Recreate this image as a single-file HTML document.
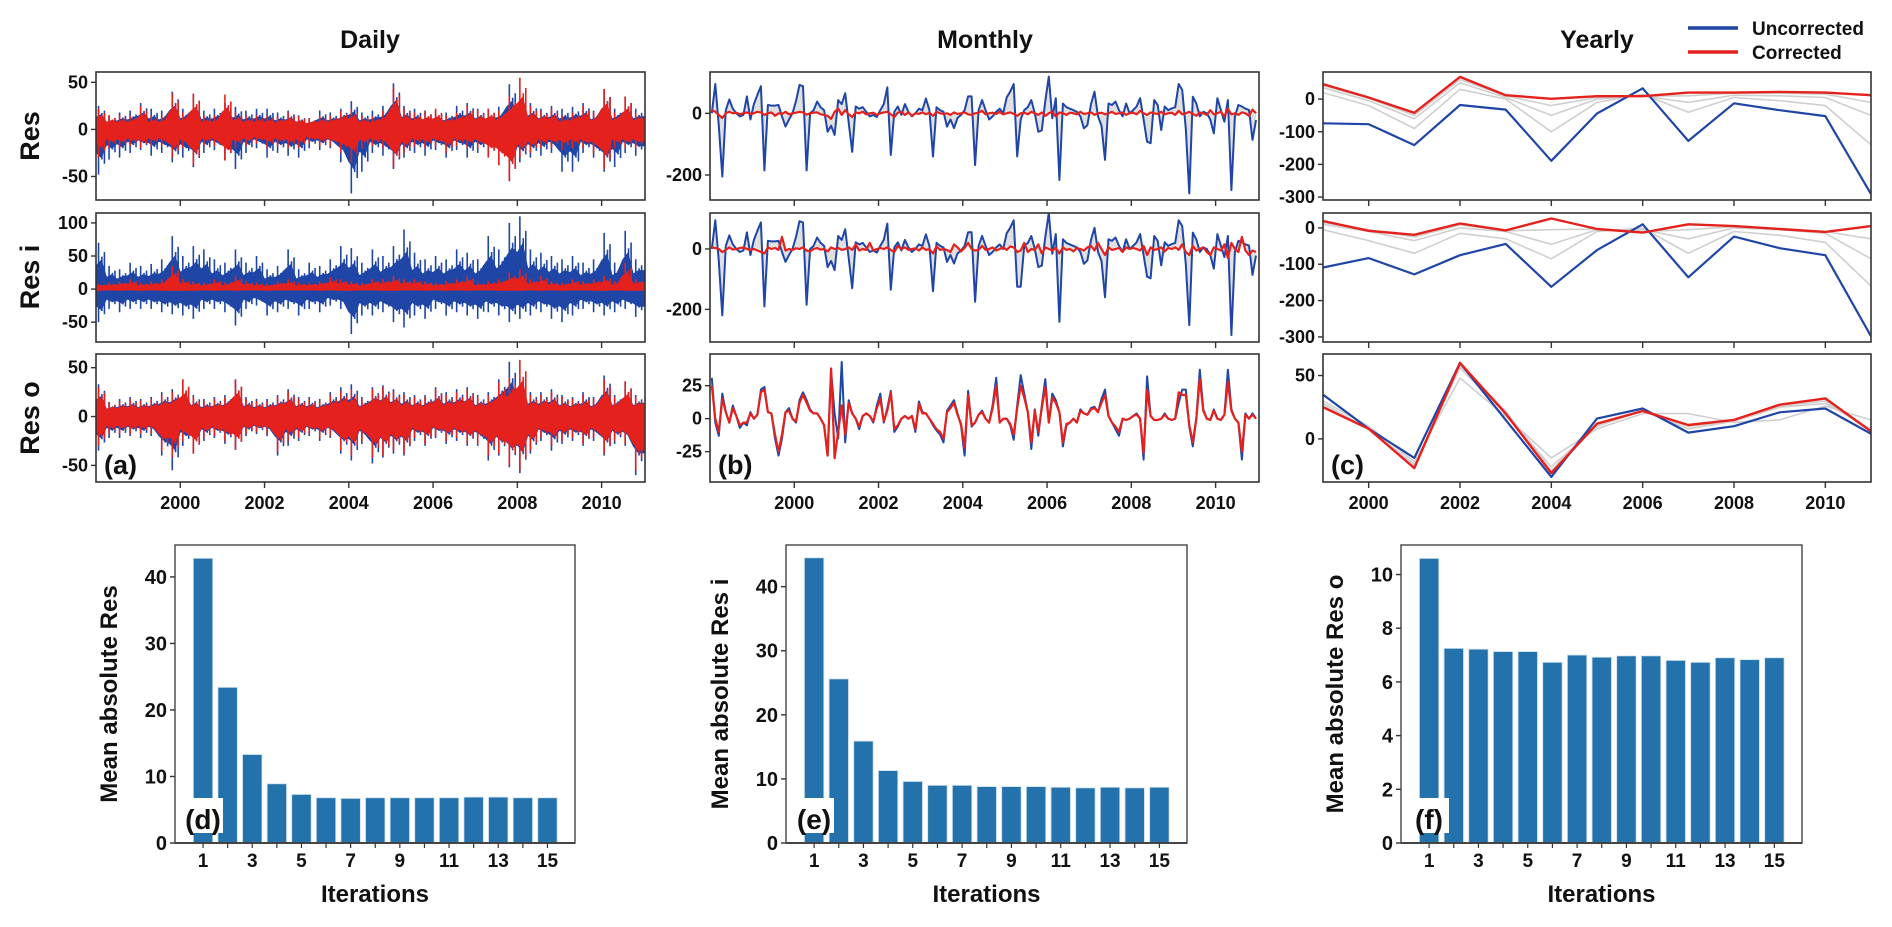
<!DOCTYPE html>
<html><head><meta charset="utf-8"><style>
html,body{margin:0;padding:0;background:#fff}
svg text{font-family:"Liberation Sans",Arial,sans-serif;font-weight:bold;fill:#111}
</style></head><body>
<svg id="fig" width="1892" height="922" viewBox="0 0 1892 922" xmlns="http://www.w3.org/2000/svg"></svg>
<script>
// ---------------- DATA ----------------
// daily quarterly envelopes (1998Q1..2010Q4)
const dR1BlueHi=[25,15,18,20,28,22,20,40,22,38,20,22,28,24,20,22,22,18,20,15,12,20,18,22,30,18,20,25,49,25,22,20,20,18,25,28,22,22,24,48,30,28,22,25,22,24,28,20,43,22,35,22];
const dR1BlueLo=[-48,-32,-30,-25,-22,-28,-25,-35,-30,-40,-25,-22,-33,-42,-25,-20,-30,-25,-28,-30,-20,-22,-20,-35,-68,-45,-25,-28,-42,-30,-25,-28,-22,-30,-22,-30,-25,-28,-38,-55,-35,-30,-28,-25,-45,-45,-25,-30,-45,-40,-25,-28];
const dR1RedHi=[22,15,15,15,25,15,15,38,18,38,15,15,37,18,15,15,15,14,18,14,12,15,15,20,22,15,14,20,45,22,18,20,22,15,18,25,20,22,20,35,55,25,20,22,15,18,25,18,43,18,35,18];
const dR1RedLo=[-30,-20,-20,-18,-20,-18,-18,-30,-20,-38,-18,-18,-33,-20,-18,-15,-20,-18,-20,-20,-15,-18,-18,-25,-35,-20,-18,-20,-40,-25,-18,-20,-18,-25,-18,-20,-20,-30,-38,-55,-30,-25,-20,-20,-22,-20,-20,-25,-42,-20,-20,-20];
const dR2BlueHi=[70,35,30,40,35,38,45,80,50,65,60,45,40,60,40,50,30,35,60,30,40,35,45,65,62,40,60,50,65,90,55,45,50,45,60,55,45,80,60,100,110,60,55,50,45,50,40,45,85,40,88,45];
const dR2BlueLo=[-50,-30,-35,-30,-30,-30,-35,-38,-40,-45,-30,-30,-35,-55,-30,-25,-40,-35,-30,-40,-30,-35,-25,-30,-68,-40,-40,-35,-50,-58,-40,-45,-30,-40,-35,-40,-45,-35,-40,-50,-45,-40,-35,-45,-50,-40,-30,-35,-40,-35,-30,-42];
const dR2RedHi=[8,10,12,15,10,12,15,35,15,12,10,15,10,20,12,10,8,12,15,10,10,12,18,15,12,10,15,15,20,15,15,12,10,12,15,20,10,12,15,25,30,15,20,12,10,15,12,15,20,12,40,15];
const dR2RedLo=[-3,-2,-3,-2,-3,-2,-3,-3,-3,-3,-2,-3,-2,-3,-2,-2,-3,-2,-2,-2,-2,-3,-2,-3,-3,-2,-2,-3,-3,-2,-2,-3,-2,-3,-2,-3,-2,-2,-3,-3,-3,-2,-3,-2,-3,-2,-2,-3,-3,-2,-3,-3];
const dR3BlueHi=[33,15,18,20,18,20,25,28,38,22,18,20,22,38,20,18,18,22,28,20,20,18,25,30,33,20,30,32,28,25,22,22,30,25,28,30,22,25,38,56,30,25,25,28,22,20,25,20,42,22,36,22];
const dR3BlueLo=[-35,-22,-22,-20,-22,-20,-40,-55,-30,-38,-25,-22,-28,-34,-20,-18,-20,-40,-30,-25,-20,-25,-22,-38,-45,-28,-48,-42,-38,-40,-25,-30,-22,-28,-25,-30,-30,-45,-40,-52,-58,-38,-25,-35,-28,-25,-30,-25,-40,-28,-30,-60];
const dR3RedHi=[30,14,16,18,16,18,22,25,38,20,16,18,20,38,18,16,16,20,26,18,18,16,22,26,28,18,28,30,26,22,20,20,28,22,25,28,20,22,35,40,58,22,22,25,20,18,22,18,38,20,36,20];
const dR3RedLo=[-30,-18,-18,-18,-18,-18,-35,-42,-25,-38,-22,-20,-25,-34,-18,-16,-18,-36,-25,-22,-18,-22,-20,-35,-40,-25,-42,-40,-35,-38,-22,-28,-20,-25,-22,-28,-28,-40,-38,-50,-55,-35,-22,-30,-25,-22,-28,-22,-38,-25,-28,-55];

// monthly (Jan 1998 .. Dec 2010)
const mR1Blue=[0,95,-40,-205,10,45,15,0,-10,-5,55,-20, 30,60,88,-185,27,25,25,27,-10,-43,-20,0, 40,92,88,-185,0,10,38,20,10,-60,-40,-70, 43,30,65,-30,-125,22,15,20,5,-10,-5,-12, 10,30,84,-135,5,22,-5,30,5,-10,0,15, 10,48,10,-140,20,10,5,-43,-20,-48,-15,-5, 10,55,55,-168,10,43,10,-20,-10,5,15,0, 52,70,95,-140,-20,10,20,43,0,-60,-55,40, 119,-16,49,-216,32,20,15,10,5,-10,-49,-38, 30,70,-10,-40,-151,32,27,38,10,-10,32,0, 10,22,49,-20,-92,-97,43,27,-54,22,10,16, 20,95,76,-50,-260,54,32,-10,5,0,-20,-65, 49,10,-27,43,-249,-10,27,22,15,11,-86,-22];
const mR1Red=[10,5,-5,-15,0,5,0,2,-3,0,3,-2, 0,5,3,-5,0,3,-8,0,-2,5,-3,0, 2,5,3,-4,0,2,3,-3,-5,-8,-18,5, 15,-5,10,-3,-12,3,0,5,-3,0,2,-5, 0,3,5,-3,-12,2,5,-5,3,-8,0,-2, 3,-3,2,-8,5,0,-2,0,-5,3,-2,0, 3,-3,-5,0,2,8,-3,0,2,-2,5,-3, 0,3,-2,-8,0,2,-3,5,0,-5,3,-8, 0,5,-10,3,0,-5,2,0,-3,5,-2,0, 3,-5,0,2,-3,0,5,-2,0,3,-5,0, 2,-3,8,0,-5,3,0,-2,5,-3,0,2, -5,8,-3,0,5,-2,-8,3,0,-5,10,-3, 0,5,-10,15,-3,0,-5,3,0,-8,12,0];
const mR2Blue=[0,95,-40,-220,10,45,15,0,-10,-5,55,-20, 30,60,88,-190,27,25,25,27,-10,-43,-20,0, 40,92,88,-185,0,10,38,20,10,-60,-40,-70, 43,30,65,-30,-130,22,15,20,5,-10,-5,-12, 10,30,84,-135,5,22,-5,30,5,-10,0,15, 10,48,10,-140,20,10,5,-43,-20,-48,-15,-5, 10,55,55,-175,10,43,10,-20,-10,5,15,0, 52,70,95,-125,-125,10,20,43,0,-60,-55,40, 119,-16,49,-241,32,20,15,10,5,-10,-49,-38, 30,70,-10,-40,-160,32,27,38,10,-10,32,0, 10,22,49,-20,-92,-97,43,27,-54,22,10,16, 20,95,76,-50,-252,54,32,-10,5,0,-20,-65, 49,10,-27,43,-285,-10,27,22,15,11,-86,-22];
const mR2Red=[5,3,0,-10,-3,5,-2,0,3,5,0,-3, 0,-5,-10,-15,5,0,3,-3,40,-5,0,-3, 2,0,5,-5,-8,0,3,-2,0,-8,5,0, 3,-3,0,5,-3,15,-5,0,-3,20,-5,0, 3,0,5,-3,-10,10,0,5,-3,0,2,-5, 5,-3,0,-15,8,-3,0,-3,-10,15,5,-8, 3,20,0,-5,-3,10,-3,0,5,-5,0,5, -3,8,5,-10,-5,20,-10,0,-3,15,-15,5, 0,-5,3,-15,5,-3,0,-8,3,0,-5,5, 10,-5,20,0,-20,5,-3,0,3,-10,5,0, 3,0,-5,10,-20,5,-3,0,5,-8,3,0, 5,-3,15,-10,-20,10,-5,0,5,-10,-20,5, 0,-5,15,-30,20,0,-10,40,-5,-20,-5,-10];
const mR3Blue=[31,-3,-13,19,5,-3,10,2,-7,-3,-5,5, 0,3,22,24,5,4,-15,-28,-15,5,8,0, -3,14,20,14,7,4,4,0,-5,-28,36,4, -15,43,-18,14,4,0,-8,2,4,2,-3,10, 19,-3,8,21,-10,-6,0,2,0,2,-10,13, 5,4,0,-5,-9,-12,-18,6,10,14,4,-5, -28,21,-6,-3,3,6,0,-3,10,31,-3,0, 0,-5,-16,10,33,19,5,-23,7,-13,10,30, -3,19,14,5,-21,-5,-3,0,-3,7,4,3, 8,9,5,15,22,2,-3,-8,-13,0,-1,0, 2,4,0,-31,32,2,-1,-1,0,4,0,-1, 0,12,22,22,-6,-21,0,37,7,0,-1,7, 0,-1,3,37,7,0,-3,-31,4,0,4,0];
const mR3Red=[25,0,-10,15,5,-3,8,2,-5,-3,-3,4, 0,3,20,22,5,4,-12,-25,-12,5,6,0, -2,12,18,12,6,4,4,0,-5,-28,38,-30, -10,10,-12,12,4,0,-6,2,4,2,-2,8, 15,-2,6,20,-8,-5,0,2,0,2,-8,11, 4,4,0,-4,-8,-10,-15,5,8,12,3,-4, -22,18,-5,-3,3,5,0,-3,8,25,-3,0, 0,-4,-12,8,25,16,5,-18,6,-10,8,24, -3,16,12,5,-18,-4,-3,0,-3,6,4,3, 7,8,5,12,18,2,-3,-6,-10,0,-1,0, 2,3,0,-26,22,2,-1,-1,0,3,0,-1, 0,20,18,18,-5,-18,0,30,6,0,-1,6, 0,-1,3,28,6,0,-3,-25,3,0,3,0];

// yearly (1999..2011)
const years=[1999,2000,2001,2002,2003,2004,2005,2006,2007,2008,2009,2010,2011];
const yR1Blue=[-74,-77,-141,-18,-32,-189,-44,33,-128,-13,-34,-52,-291];
const yR1Red=[46,5,-42,68,12,1,9,9,20,20,22,20,12];
const yR1Gray1=[20,-20,-90,30,0,-100,-10,15,-40,5,-5,-20,-140];
const yR1Gray2=[35,-5,-60,50,5,-50,0,10,-10,12,10,5,-50];
const yR1Gray3=[42,2,-50,60,10,-20,5,9,10,18,18,15,-10];
const yR2Blue=[-109,-83,-128,-75,-44,-162,-61,10,-136,-24,-56,-75,-298];
const yR2Red=[19,-8,-19,12,-7,26,-3,-13,10,5,-3,-11,5];
const yR2Gray1=[-5,-35,-70,-15,-30,-85,-10,0,-70,-10,-20,-40,-160];
const yR2Gray2=[10,-10,-35,0,-10,-45,-5,-5,-30,0,-5,-15,-85];
const yR2Gray3=[15,-5,-25,8,-8,-5,-3,-10,-5,3,-2,-10,-30];
const yR3Blue=[35,8,-15,60,15,-30,16,24,5,10,21,24,4];
const yR3Red=[25,8,-23,60,20,-27,12,22,11,15,27,32,6];
const yR3Gray1=[30,10,-18,48,18,-15,8,20,20,13,15,26,15];
const yR3Gray2=[28,8,-20,56,20,-22,10,22,8,14,25,28,8];
const yR3Gray3=[26,8,-22,58,22,-25,12,22,10,14,26,30,6];

// bars
const iterations=[1,2,3,4,5,6,7,8,9,10,11,12,13,14,15];
const barD=[42.8,23.4,13.3,8.9,7.3,6.8,6.7,6.8,6.8,6.8,6.8,6.9,6.9,6.8,6.8];
const barE=[44.5,25.6,15.9,11.3,9.6,9.0,9.0,8.8,8.8,8.8,8.7,8.6,8.7,8.6,8.7];
const barF=[10.6,7.25,7.22,7.13,7.13,6.73,7.0,6.92,6.97,6.97,6.8,6.73,6.9,6.83,6.9];
const timeTicks=[2000,2002,2004,2006,2008,2010];
const iterTicks=[1,3,5,7,9,11,13,15];

// ---------------- DRAW ----------------
const NS='http://www.w3.org/2000/svg';
const svg=document.getElementById('fig');
function el(tag,attrs,parent){const e=document.createElementNS(NS,tag);for(const k in attrs)e.setAttribute(k,attrs[k]);(parent||svg).appendChild(e);return e;}
function txt(s,attrs,parent){const t=el('text',attrs,parent);t.textContent=s;return t;}
function lin(d0,d1,r0,r1){return v=>r0+(v-d0)*(r1-r0)/(d1-d0);}
const BLUE='#1f46a6',RED='#e5211d',GRAY='#cfcfcf';
const rows=[[72,200],[213,342],[354,482]];
const cols={daily:[96,645],monthly:[710,1259],yearly:[1323,1871]};

function panel(name,x0,x1,y0,y1,ydom,yticks,xfn,xticks,showXLabels){
  const g=el('g',{});
  
  
  const y=lin(ydom[0],ydom[1],y1,y0);
  const clipId='c'+name;
  const cp=el('clipPath',{id:clipId},g);el('rect',{x:x0,y:y0,width:x1-x0,height:y1-y0},cp);
  const plot=el('g',{'clip-path':'url(#'+clipId+')'},g);
  
  
  const ax=el('g',{},g);
  
  
  el('rect',{x:x0,y:y0,width:x1-x0,height:y1-y0,fill:'none',stroke:'#333','stroke-width':1.6},ax);
  yticks.forEach(v=>{const yy=y(v);el('line',{x1:x0-5,x2:x0,y1:yy,y2:yy,stroke:'#333','stroke-width':1.4},ax);
    const t=txt(String(v),{x:x0-8,y:yy+6,'text-anchor':'end','font-size':18},ax);
    });
  xticks.forEach(v=>{const xx=xfn(v);el('line',{x1:xx,x2:xx,y1:y1,y2:y1+6,stroke:'#333','stroke-width':1.4},ax);
    if(showXLabels){const t=txt(String(v),{x:xx,y:y1+27,'text-anchor':'middle','font-size':18},ax);
      }});
  return {plot,y,g};
}
function path(parent,pts,color,w,name){const p=el('path',{d:'M'+pts.map(p=>p[0].toFixed(1)+','+p[1].toFixed(1)).join('L'),fill:'none',stroke:color,'stroke-width':w,'stroke-linejoin':'round'},parent);
  return p;}

// daily
const xD=lin(1998,2011.03,cols.daily[0],cols.daily[1]);
function dailySeries(pl,y,hi,lo,color,name){
  const g=el('g',{},pl);
  
  
  const top=[],bot=[];
  hi.forEach((h,i)=>{const t=1998+i*0.25;const l=lo[i];
    top.push([xD(t),y(h*0.5)],[xD(t+0.125),y(h*0.62)]);
    bot.push([xD(t),y(l*0.5)],[xD(t+0.125),y(l*0.62)]);
    [[0.06,1],[0.14,0.7],[0.2,0.8]].forEach(([o,s])=>{
      el('line',{x1:xD(t+o),x2:xD(t+o),y1:y(h*s),y2:y(l*(s===1?1:s*0.95)),stroke:color,'stroke-width':1.6},g);});
  });
  top.push([xD(2011.03),top[top.length-1][1]]);bot.push([xD(2011.03),bot[bot.length-1][1]]);
  el('path',{d:'M'+top.map(p=>p.join(',')).join('L')+'L'+bot.reverse().map(p=>p.join(',')).join('L')+'Z',fill:color,stroke:color,'stroke-width':1},g);
}
const dCfg=[[[-75,61],[-50,0,50],dR1BlueHi,dR1BlueLo,dR1RedHi,dR1RedLo],
            [[-80,115],[-50,0,50,100],dR2BlueHi,dR2BlueLo,dR2RedHi,dR2RedLo],
            [[-67,64],[-50,0,50],dR3BlueHi,dR3BlueLo,dR3RedHi,dR3RedLo]];
dCfg.forEach((c,r)=>{const p=panel('daily-row'+(r+1),cols.daily[0],cols.daily[1],rows[r][0],rows[r][1],c[0],c[1],xD,timeTicks,r===2);
  dailySeries(p.plot,p.y,c[2],c[3],BLUE,'daily-uncorrected-'+(r+1));
  dailySeries(p.plot,p.y,c[4],c[5],RED,'daily-corrected-'+(r+1));});

// monthly
const xM=lin(1998,2011.03,cols.monthly[0],cols.monthly[1]);
const mCfg=[[[-281,134],[-200,0],mR1Blue,mR1Red],[[-308,119],[-200,0],mR2Blue,mR2Red],[[-48,49],[-25,0,25],mR3Blue,mR3Red]];
mCfg.forEach((c,r)=>{const p=panel('monthly-row'+(r+1),cols.monthly[0],cols.monthly[1],rows[r][0],rows[r][1],c[0],c[1],xM,timeTicks,r===2);
  const bp=c[2].map((v,i)=>[xM(1998+(i+0.5)/12),p.y(v)]);
  const rp=c[3].map((v,i)=>[xM(1998+(i+0.5)/12),p.y(v)]);
  const band=el('path',{d:'M'+bp.map(q=>q.join(',')).join('L')+'L'+rp.slice().reverse().map(q=>q.join(',')).join('L')+'Z',fill:r===2?'none':'#e0e0e0',stroke:'none'},p.plot);
  
  path(p.plot,bp,BLUE,2,'monthly-uncorrected-'+(r+1));
  path(p.plot,rp,RED,2.2,'monthly-corrected-'+(r+1));});

// yearly
const xY=lin(1999,2011,cols.yearly[0],cols.yearly[1]);
const yCfg=[[[-309,83],[-300,-200,-100,0],yR1Blue,yR1Red,[yR1Gray1,yR1Gray2,yR1Gray3]],
            [[-314,41],[-300,-200,-100,0],yR2Blue,yR2Red,[yR2Gray1,yR2Gray2,yR2Gray3]],
            [[-34,67],[0,50],yR3Blue,yR3Red,[yR3Gray1,yR3Gray2,yR3Gray3]]];
yCfg.forEach((c,r)=>{const p=panel('yearly-row'+(r+1),cols.yearly[0],cols.yearly[1],rows[r][0],rows[r][1],c[0],c[1],xY,timeTicks,r===2);
  c[4].forEach((gs,k)=>path(p.plot,gs.map((v,i)=>[xY(years[i]),p.y(v)]),GRAY,1.6,'yearly-iteration-'+(k+2)));
  path(p.plot,c[2].map((v,i)=>[xY(years[i]),p.y(v)]),BLUE,2.2,'yearly-uncorrected-'+(r+1));
  path(p.plot,c[3].map((v,i)=>[xY(years[i]),p.y(v)]),RED,2.4,'yearly-corrected-'+(r+1));});

// panel letters a,b,c
[['(a)',cols.daily[0]+8],['(b)',cols.monthly[0]+8],['(c)',cols.yearly[0]+8]].forEach(([s,x])=>{
  const t=txt(s,{x:x,y:474,'font-size':27,'font-weight':'normal'});});

// bar charts
function barChart(name,x0,x1,vals,ymax,yticks,ylabel,letter){
  const y0=545,y1=843;
  const g=el('g',{});
  const x=lin(-0.14,16.12,x0,x1);const y=lin(0,ymax,y1,y0);
  vals.forEach((v,i)=>{const b=el('rect',{x:x(iterations[i])-9.7,y:y(v),width:19.4,height:y1-y(v),fill:'#2372ab',stroke:'#cfe0ee','stroke-width':0.8},g);
    });
  el('rect',{x:x0,y:y0,width:x1-x0,height:y1-y0,fill:'none',stroke:'#444','stroke-width':1.4},g);
  el('line',{x1:x0,x2:x1,y1:y1,y2:y1,stroke:'#444','stroke-width':2},g);
  yticks.forEach(v=>{el('line',{x1:x0-5,x2:x0,y1:y(v),y2:y(v),stroke:'#333','stroke-width':1.4},g);
    const t=txt(String(v),{x:x0-8,y:y(v)+7,'text-anchor':'end','font-size':20},g);});
  iterations.forEach(v=>{el('line',{x1:x(v),x2:x(v),y1:y1,y2:y1+5,stroke:'#333','stroke-width':1.2},g);});
  iterTicks.forEach(v=>{const t=txt(String(v),{x:x(v),y:867,'text-anchor':'middle','font-size':19},g);});
  const xl=txt('Iterations',{x:(x0+x1)/2,y:902,'text-anchor':'middle','font-size':24},g);
  const yl=txt(ylabel,{x:0,y:0,'text-anchor':'middle','font-size':24,transform:'translate('+(x0-58)+',694) rotate(-90)'},g);
  const bx=el('rect',{x:x0+9,y:798,width:39,height:35,fill:'#fff'},g);
  const lt=txt(letter,{x:x0+28,y:829,'text-anchor':'middle','font-size':28,'font-weight':'normal'},g);
}
barChart('bar-chart-d',175,575,barD,44.8,[0,10,20,30,40],'Mean absolute Res','(d)');
barChart('bar-chart-e',786,1187,barE,46.5,[0,10,20,30,40],'Mean absolute Res i','(e)');
barChart('bar-chart-f',1401,1802,barF,11.1,[0,2,4,6,8,10],'Mean absolute Res o','(f)');

// titles & row labels
[['Daily',370],['Monthly',985],['Yearly',1597]].forEach(([s,x])=>{const t=txt(s,{x:x,y:48,'text-anchor':'middle','font-size':25});});
[['Res',136],['Res i',277],['Res o',418]].forEach(([s,yc])=>{const t=txt(s,{x:0,y:0,'text-anchor':'middle','font-size':27,transform:'translate(39,'+yc+') rotate(-90)'});});

// legend
const lg=el('g',{});
[['Uncorrected',BLUE,28],['Corrected',RED,52]].forEach(([s,c,yy])=>{
  const e=el('g',{},lg);
  el('line',{x1:1688,x2:1738,y1:yy,y2:yy,stroke:c,'stroke-width':3.5},e);
  txt(s,{x:1752,y:yy+7,'font-size':19},e);});
</script>
</body></html>
